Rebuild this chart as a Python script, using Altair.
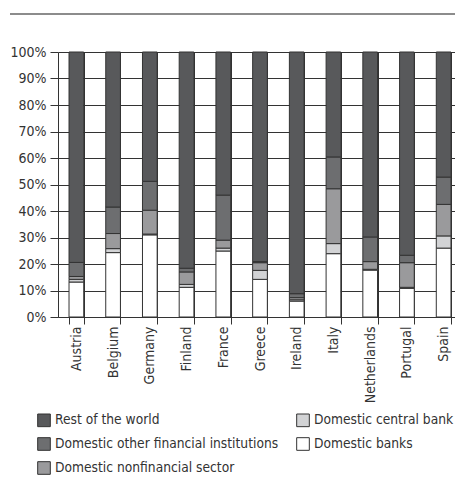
import altair as alt
import pandas as pd

countries = ["Austria", "Belgium", "Germany", "Finland", "France", "Greece",
             "Ireland", "Italy", "Netherlands", "Portugal", "Spain"]
banks = [13.2, 24.3, 31.0, 11.2, 24.9, 14.2, 6.0, 23.9, 17.7, 10.8, 26.0]
central_bank = [1.0, 1.5, 0.3, 1.1, 1.1, 3.4, 0.5, 3.8, 0.3, 0.4, 4.6]
nonfinancial = [1.1, 5.7, 9.0, 4.7, 3.0, 2.9, 0.8, 20.7, 2.9, 9.3, 11.9]
other_fin = [5.3, 10.0, 10.9, 1.4, 17.0, 0.4, 1.5, 12.0, 9.3, 2.8, 10.3]
rest_world = [79.4, 58.5, 48.8, 81.6, 54.0, 79.1, 91.2, 39.6, 69.8, 76.7, 47.2]

series = [
    ("Domestic banks", banks),
    ("Domestic central bank", central_bank),
    ("Domestic nonfinancial sector", nonfinancial),
    ("Domestic other financial institutions", other_fin),
    ("Rest of the world", rest_world),
]
rows = []
for k, (name, vals) in enumerate(series):
    for c, v in zip(countries, vals):
        rows.append({"country": c, "sector": name, "value": v, "k": k})
df = pd.DataFrame(rows)

legend_order = ["Rest of the world", "Domestic other financial institutions",
                "Domestic nonfinancial sector", "Domestic central bank",
                "Domestic banks"]
legend_colors = ["#58595b", "#6d6e70", "#9a9a9c", "#d2d3d5", "#ffffff"]

FONT = "DejaVu Sans Condensed, Liberation Sans Narrow, sans-serif"
INK = "#333333"
W, H = 404, 265
FS = 14
LFS = 13.7

bars = alt.Chart(df).mark_bar(stroke=INK, strokeWidth=1).encode(
    x=alt.X("country:N", sort=countries,
            scale=alt.Scale(paddingInner=0.6, paddingOuter=0.3),
            axis=alt.Axis(title=None, labelAngle=-90, tickBand="extent",
                          grid=True, gridColor=INK, gridWidth=1,
                          domainColor=INK, tickColor=INK, tickSize=7,
                          labelPadding=2, labelFont=FONT, labelFontSize=FS,
                          labelColor=INK)),
    y=alt.Y("value:Q", stack="zero",
            scale=alt.Scale(domain=[0, 100], nice=False),
            axis=alt.Axis(title=None, values=list(range(0, 101, 10)),
                          labelExpr="datum.value + '%'", grid=True,
                          gridColor=INK, gridWidth=1, domainColor=INK,
                          tickColor=INK, tickSize=8, labelPadding=4,
                          labelFont=FONT, labelFontSize=FS, labelColor=INK)),
    color=alt.Color("sector:N",
                    scale=alt.Scale(domain=legend_order, range=legend_colors),
                    legend=alt.Legend(title=None, orient="none", legendX=-21,
                                      legendY=361, columns=2, direction="vertical",
                                      symbolType="square", symbolSize=160,
                                      symbolStrokeColor=INK, symbolStrokeWidth=1,
                                      labelFont=FONT, labelFontSize=LFS,
                                      labelColor=INK, labelOffset=4,
                                      rowPadding=6, columnPadding=15,
                                      labelLimit=400)),
    order=alt.Order("k:Q", sort="ascending"),
)

top_rule = alt.Chart(pd.DataFrame({"a": [0]})).mark_rule(
    color="#666666", strokeWidth=1.5).encode(
    x=alt.value(-48), x2=alt.value(W + 2), y=alt.value(-38))

chart = alt.layer(bars, top_rule).properties(
    width=W, height=H,
    autosize=alt.AutoSizeParams(type="none"),
    padding={"left": 50, "top": 44, "right": -7, "bottom": 165},
).configure_view(stroke=None)

chart.save("out.html", embed_options={"renderer": "svg", "actions": False})
